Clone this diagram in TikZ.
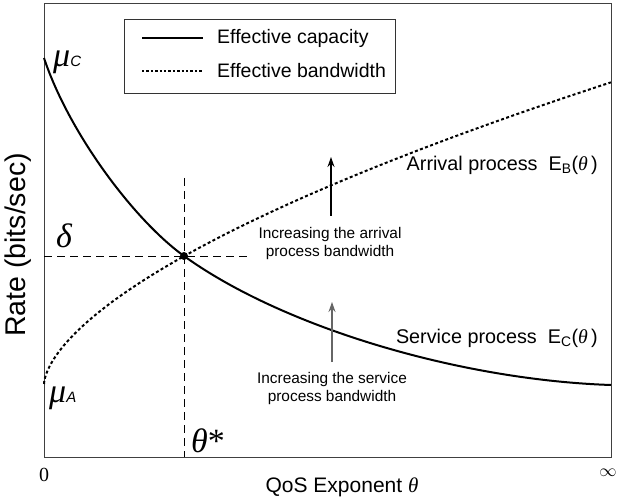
\documentclass[tikz,border=0pt]{standalone}
\usepackage{fontspec}
\setmainfont{Liberation Sans}
\newfontfamily\serifnum{Liberation Serif}
\usetikzlibrary{arrows.meta}
\newcommand{\symsub}[1]{{\normalfont\itshape\fontsize{15}{16}\selectfont #1}}
\begin{document}
\begin{tikzpicture}[x=1pt,y=-1pt,
  frame/.style={draw=black!75,line width=1pt},
  capcurve/.style={draw=black,line width=2pt},
  bwcurve/.style={draw=black,line width=2pt,dash pattern=on 3pt off 2.4pt},
  guide/.style={draw=black,line width=1pt,dash pattern=on 8pt off 5pt},
  uparrow/.style={line width=1.1pt,-{Stealth[length=10pt,width=7pt]}},
  bigtxt/.style={font=\fontsize{19.8}{22}\selectfont,inner sep=0pt},
  midtxt/.style={font=\fontsize{19.5}{22}\selectfont,inner sep=0pt},
  smalltxt/.style={font=\fontsize{15.4}{18}\selectfont,align=center,inner sep=0pt},
  symtxt/.style={font=\serifnum\itshape\fontsize{34}{36}\selectfont,inner sep=0pt}]
\useasboundingbox (0,0) rectangle (619,500);
\fill[white] (0,0) rectangle (619,500);

% plot frame
\draw[frame] (44,4) rectangle (611,457);

% guides through the operating point
\coordinate (op) at (184,256);
\coordinate (hleft) at (44,256);
\coordinate (hright) at (250,256);
\coordinate (vtop) at (184,178);
\coordinate (vbot) at (184,457);
\draw[guide] (hleft) -- (hright);
\draw[guide] (vtop) -- (vbot);

% effective capacity (service process)
\coordinate (capstart) at (44,58);
\coordinate (capend) at (611,385);
\draw[capcurve] (capstart) .. controls (69,133) and (134,220) .. (op)
                           .. controls (284,328) and (461,380) .. (capend);

% effective bandwidth (arrival process): y = 384 - 6.15 x^0.614
\draw[bwcurve] plot[variable=\u,domain=0:23.812,samples=120]
  ({44+\u*\u},{384-6.15*pow(\u+0.0001,1.228)});

% operating point
\fill (op) circle (4pt);

% legend
\node[draw=black!80,line width=0.8pt,minimum width=271pt,minimum height=74pt,inner sep=0pt] (legend) at (259.5,56) {};
\coordinate (l1a) at (142,38);
\coordinate (l1b) at (203,38);
\coordinate (l2a) at (142,71);
\coordinate (l2b) at (203,71);
\draw[capcurve] (l1a) -- (l1b);
\draw[bwcurve,line width=1.5pt,dash pattern=on 2.4pt off 2pt] (l2a) -- (l2b);
\node[midtxt,anchor=west] (lt1) at (217,38) {Effective capacity};
\node[midtxt,anchor=west] (lt2) at (217,71) {Effective bandwidth};

% curve labels
\node[bigtxt,anchor=east] (arr) at (598,165) {Arrival process\ \ E\textsubscript{B}({\serifnum\itshape θ}\,)};
\node[bigtxt,anchor=east] (srv) at (598,338) {Service process\ \ E\textsubscript{C}({\serifnum\itshape θ}\,)};

% trend arrows
\coordinate (a1s) at (331,216);
\coordinate (a1e) at (331,157);
\coordinate (a2s) at (332,362);
\coordinate (a2e) at (332,302);
\draw[uparrow,black] (a1s) -- (a1e);
\draw[uparrow,black!60] (a2s) -- (a2e);
\node[smalltxt] (inc1) at (330,244) {Increasing the arrival\\process bandwidth};
\node[smalltxt] (inc2) at (332,389) {Increasing the service\\process bandwidth};

% axis symbols
\node[symtxt,anchor=west] (muc) at (53,62) {μ\symsub{C}};
\node[symtxt,anchor=west] (mua) at (49,398) {μ\symsub{A}};
\node[symtxt] (del) at (64,236) {δ};
\node[symtxt,anchor=west] (tst) at (191,441) {θ\upshape*};

% axis ticks and titles
\node[font=\serifnum\fontsize{20}{22}\selectfont,inner sep=0pt] (zero) at (44,475) {0};
\node[font=\fontsize{16}{18}\selectfont,inner sep=0pt] (inf) at (608,473) {$\infty$};
\node[font=\fontsize{21}{24}\selectfont,inner sep=0pt] (xlab) at (342,487) {QoS Exponent {\serifnum\itshape θ}};
\node[font=\fontsize{28.5}{30}\selectfont,inner sep=0pt,rotate=90] (ylab) at (18,245) {Rate (bits/sec)};
\end{tikzpicture}
\end{document}
